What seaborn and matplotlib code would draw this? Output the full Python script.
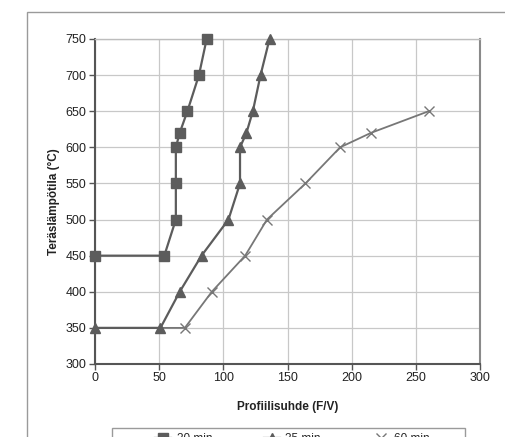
import numpy as np
import pandas as pd
import seaborn as sns
import matplotlib.pyplot as plt
from matplotlib.patches import Rectangle

# series: profile factor (F/V) vs steel temperature
temp_30 = [450, 450, 500, 550, 600, 620, 650, 700, 750]
fv_30 = [0, 54, 63, 63, 63, 66, 72, 81, 87]

temp_35 = [350, 350, 400, 450, 500, 550, 600, 620, 650, 700, 750]
fv_35 = [0, 51, 66, 83, 104, 113, 113, 118, 123, 129, 136]

temp_60 = [350, 350, 400, 450, 500, 550, 600, 620, 650]
fv_60 = [0, 70, 91, 117, 134, 164, 191, 215, 260]

labels = ["30 min", "35 min", "60 min"]
x_ticks = [0, 50, 100, 150, 200, 250, 300]
y_ticks = [300, 350, 400, 450, 500, 550, 600, 650, 700, 750]


def main():
    sns.set_theme(style="white")
    plt.rcParams["font.family"] = ["Liberation Sans", "DejaVu Sans"]

    df = pd.concat([
        pd.DataFrame({"fv": fv_30, "temp": temp_30, "sarja": labels[0]}),
        pd.DataFrame({"fv": fv_35, "temp": temp_35, "sarja": labels[1]}),
        pd.DataFrame({"fv": fv_60, "temp": temp_60, "sarja": labels[2]}),
    ])

    fig = plt.figure(figsize=(5.05, 4.37), dpi=100)
    ax = fig.add_axes([95 / 505, 1 - 364 / 437, 385 / 505, 325 / 437])

    # outer chart frame like the excel chart area
    fig.patches.append(Rectangle((27 / 505, -0.1), 1.2, 1 - 12 / 437 + 0.1,
                                 transform=fig.transFigure, fill=False,
                                 edgecolor="#9a9a9a", linewidth=1.0))
    # legend box, only its top edge is inside the picture
    fig.patches.append(Rectangle((112 / 505, -0.1), 353 / 505,
                                 0.1 + 1 - 428 / 437,
                                 transform=fig.transFigure, fill=False,
                                 edgecolor="#9a9a9a", linewidth=1.0))

    styles = {
        labels[0]: dict(marker="s", color="#5c5c5c", markersize=7, lw=1.6, z=4),
        labels[1]: dict(marker="^", color="#5c5c5c", markersize=7, lw=1.6, z=4),
        labels[2]: dict(marker="x", color="#777777", markersize=7, lw=1.3, z=3),
    }
    for name in labels:
        st = styles[name]
        sub = df[df["sarja"] == name]
        extra = {}
        if name == labels[2]:
            # first point sits under the triangle, no own marker there
            extra["markevery"] = list(range(1, len(sub)))
        sns.lineplot(data=sub, x="fv", y="temp", sort=False, estimator=None,
                     color=st["color"], marker=st["marker"],
                     markersize=st["markersize"], markeredgecolor=st["color"],
                     markeredgewidth=1.0, linewidth=st["lw"], label=name,
                     ax=ax, zorder=st["z"], clip_on=False, **extra)

    ax.set_xlim(0, 300)
    ax.set_ylim(300, 750)
    ax.set_xticks(x_ticks)
    ax.set_yticks(y_ticks)
    ax.grid(True, color="#c8c8c8", linewidth=0.9)
    ax.set_axisbelow(True)
    for side in ["left", "bottom"]:
        ax.spines[side].set_color("#555555")
        ax.spines[side].set_linewidth(1.5)
    ax.spines["right"].set_color("#8a8a8a")
    ax.spines["right"].set_linewidth(1.5)
    ax.spines["top"].set_color("#bdbdbd")
    ax.spines["top"].set_linewidth(1.0)
    ax.tick_params(axis="both", length=4, width=1, color="#555555",
                   labelsize=9, labelcolor="#222222", direction="out",
                   left=True, bottom=True, pad=2)

    ax.set_xlabel("Profiilisuhde (F/V)", fontsize=8.5, fontweight="bold",
                  color="#222222", labelpad=12)
    ax.set_ylabel("Teräslämpötila (°C)", fontsize=8.5, fontweight="bold",
                  color="#222222", labelpad=4)

    handles, leg_labels = ax.get_legend_handles_labels()
    ax.get_legend().remove()
    fig.legend(handles, leg_labels, loc="upper center", ncol=3,
               bbox_to_anchor=(292 / 505, 1 - 433 / 437),
               frameon=False, borderaxespad=0, borderpad=0,
               fontsize=8.5, handlelength=1.5, handletextpad=0.4,
               columnspacing=4.3)

    fig.savefig("out.png", dpi=100)
    plt.close(fig)


if __name__ == "__main__":
    main()
